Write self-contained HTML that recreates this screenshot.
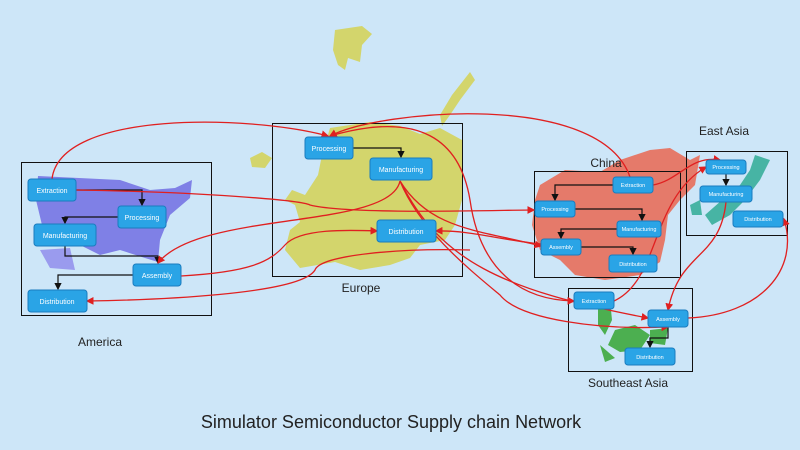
<!DOCTYPE html>
<html><head><meta charset="utf-8"><style>
body{margin:0;width:800px;height:450px;overflow:hidden;background:#cde6f8;font-family:"Liberation Sans",sans-serif}
svg{position:absolute;left:0;top:0}
</style></head><body>
<svg width="800" height="450">
<defs>
<marker id="ar" markerWidth="6" markerHeight="6" refX="5" refY="3" orient="auto"><path d="M0,0L6,3L0,6z" fill="#e02020"/></marker>
<marker id="ab" markerWidth="6" markerHeight="6" refX="5" refY="3" orient="auto"><path d="M0,0L6,3L0,6z" fill="#111"/></marker>
</defs>
<rect width="800" height="450" fill="#cde6f8"/>
<g><path d="M38,176 L120,180 L150,190 L175,188 L192,180 L190,198 L170,215 L160,240 L158,262 L145,258 L120,250 L100,255 L80,245 L60,245 L42,225 L36,200Z" fill="#7f80e6"/><path d="M40,250 L70,248 L75,270 L50,268Z" fill="#9a9bee"/></g>
<g fill="#d3d56c"><path d="M335,30 L362,26 L372,34 L362,45 L360,62 L348,58 L345,70 L338,65 L333,50Z"/><path d="M250,158 L262,152 L272,158 L265,168 L252,167Z"/><path d="M470,72 L475,80 L460,100 L450,115 L442,126 L440,115 L452,95Z"/><path d="M330,128 L370,122 L400,126 L420,134 L440,128 L462,140 L462,200 L455,225 L445,240 L420,245 L410,258 L390,265 L360,270 L335,262 L300,268 L285,250 L290,230 L300,222 L295,205 L285,200 L292,190 L305,195 L318,175 L322,155Z"/></g>
<g fill="#e57a6a"><path d="M540,185 L565,170 L600,172 L620,160 L650,150 L670,148 L690,160 L700,155 L695,185 L680,200 L668,215 L665,240 L660,262 L640,275 L605,280 L575,275 L560,260 L540,250 L532,225 L535,200Z"/></g>
<g fill="#47b4a4"><path d="M755,155 L770,160 L760,180 L745,200 L730,215 L712,225 L705,215 L722,200 L740,185 L750,170Z"/><path d="M690,205 L700,200 L702,215 L692,215Z"/></g>
<g fill="#4caf50"><path d="M598,305 L610,300 L612,320 L605,335 L598,325Z"/><path d="M615,330 L635,325 L650,335 L640,350 L620,352 L608,345Z"/><path d="M650,330 L668,328 L665,345 L650,343Z"/><path d="M600,345 L615,358 L605,362Z"/></g>
<g fill="none" stroke="#111" stroke-width="1">
<rect x="21.5" y="162.5" width="190" height="153"/>
<rect x="272.5" y="123.5" width="190" height="153"/>
<rect x="534.5" y="171.5" width="146" height="106"/>
<rect x="686.5" y="151.5" width="101" height="84"/>
<rect x="568.5" y="288.5" width="124" height="83"/>
</g>
<g fill="none" stroke="#111" stroke-width="1.2" marker-end="url(#ab)">
<path d="M76,190 H142 V205"/><path d="M118,217 H65 V223"/><path d="M65,246 V256 H158 V263"/><path d="M133,275 H58 V289"/>
<path d="M353,148 H401 V157"/>
<path d="M613,185 H555 V200"/><path d="M575,209 H642 V220"/><path d="M617,229 H561 V238"/><path d="M581,247 H633 V254"/>
<path d="M726,174 V185"/>
<path d="M668,327 V338 H650 V347"/>
</g>
<g fill="none" stroke="#e02020" stroke-width="1.3" marker-end="url(#ar)">
<path d="M52,179 C60,110 250,115 328,136"/>
<path d="M76,190 C200,192 300,200 310,205 C350,215 500,210 534,210"/>
<path d="M400,181 C390,230 200,210 158,263"/>
<path d="M181,276 C250,272 270,262 285,245 C300,228 350,230 377,231"/>
<path d="M470,250 C400,248 320,255 315,270 C300,295 150,300 87,301"/>
<path d="M630,177 C600,90 380,110 330,136"/>
<path d="M330,136 C420,110 460,140 470,200 C480,270 520,300 574,301"/>
<path d="M400,181 C430,230 480,230 541,246"/>
<path d="M541,244 C500,240 470,230 436,231"/>
<path d="M400,181 C440,260 500,290 648,318"/>
<path d="M400,181 C420,230 470,270 500,295 C520,320 600,330 668,327"/>
<path d="M653,185 C680,180 690,155 720,160"/>
<path d="M614,301 C660,280 650,200 706,167"/>
<path d="M726,202 C720,260 680,250 668,310"/>
<path d="M688,318 C760,315 800,270 784,219"/>
</g>
<g font-size="7" fill="#fff" text-anchor="middle">
<g><rect x="28" y="179" width="48" height="22" rx="3" fill="#2aa4e6" stroke="#1a7cbf"/><text x="52" y="193">Extraction</text></g>
<g><rect x="118" y="206" width="48" height="22" rx="3" fill="#2aa4e6" stroke="#1a7cbf"/><text x="142" y="220">Processing</text></g>
<g><rect x="34" y="224" width="62" height="22" rx="3" fill="#2aa4e6" stroke="#1a7cbf"/><text x="65" y="238">Manufacturing</text></g>
<g><rect x="133" y="264" width="48" height="22" rx="3" fill="#2aa4e6" stroke="#1a7cbf"/><text x="157" y="278">Assembly</text></g>
<g><rect x="28" y="290" width="59" height="22" rx="3" fill="#2aa4e6" stroke="#1a7cbf"/><text x="57" y="304">Distribution</text></g>
<g><rect x="305" y="137" width="48" height="22" rx="3" fill="#2aa4e6" stroke="#1a7cbf"/><text x="329" y="151">Processing</text></g>
<g><rect x="370" y="158" width="62" height="22" rx="3" fill="#2aa4e6" stroke="#1a7cbf"/><text x="401" y="172">Manufacturing</text></g>
<g><rect x="377" y="220" width="59" height="22" rx="3" fill="#2aa4e6" stroke="#1a7cbf"/><text x="406" y="234">Distribution</text></g>
</g>
<g font-size="5.5" fill="#fff" text-anchor="middle">
<g><rect x="613" y="177" width="40" height="16" rx="3" fill="#2aa4e6" stroke="#1a7cbf"/><text x="633" y="187">Extraction</text></g>
<g><rect x="535" y="201" width="40" height="16" rx="3" fill="#2aa4e6" stroke="#1a7cbf"/><text x="555" y="211">Processing</text></g>
<g><rect x="617" y="221" width="44" height="16" rx="3" fill="#2aa4e6" stroke="#1a7cbf"/><text x="639" y="231">Manufacturing</text></g>
<g><rect x="541" y="239" width="40" height="16" rx="3" fill="#2aa4e6" stroke="#1a7cbf"/><text x="561" y="249">Assembly</text></g>
<g><rect x="609" y="255" width="48" height="17" rx="3" fill="#2aa4e6" stroke="#1a7cbf"/><text x="633" y="266">Distribution</text></g>
<g><rect x="706" y="160" width="40" height="14" rx="3" fill="#2aa4e6" stroke="#1a7cbf"/><text x="726" y="169">Processing</text></g>
<g><rect x="700" y="186" width="52" height="16" rx="3" fill="#2aa4e6" stroke="#1a7cbf"/><text x="726" y="196">Manufacturing</text></g>
<g><rect x="733" y="211" width="50" height="16" rx="3" fill="#2aa4e6" stroke="#1a7cbf"/><text x="758" y="221">Distribution</text></g>
<g><rect x="574" y="292" width="40" height="17" rx="3" fill="#2aa4e6" stroke="#1a7cbf"/><text x="594" y="303">Extraction</text></g>
<g><rect x="648" y="310" width="40" height="17" rx="3" fill="#2aa4e6" stroke="#1a7cbf"/><text x="668" y="321">Assembly</text></g>
<g><rect x="625" y="348" width="50" height="17" rx="3" fill="#2aa4e6" stroke="#1a7cbf"/><text x="650" y="359">Distribution</text></g>
</g>
<g fill="#222" font-size="12" text-anchor="middle">
<text x="100" y="346">America</text>
<text x="361" y="292">Europe</text>
<text x="606" y="167">China</text>
<text x="724" y="135">East Asia</text>
<text x="628" y="387">Southeast Asia</text>
<text x="391" y="428" font-size="18">Simulator Semiconductor Supply chain Network</text>
</g>
</svg>
</body></html>
